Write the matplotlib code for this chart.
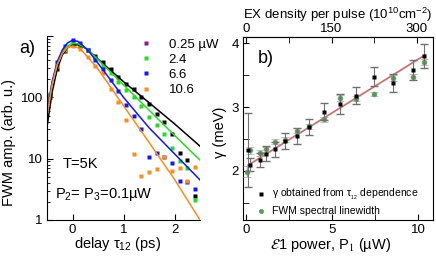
import numpy as np
import matplotlib
matplotlib.use('Agg')
import matplotlib.pyplot as plt
from matplotlib.lines import Line2D
from matplotlib.ticker import LogLocator, NullFormatter, FixedLocator

plt.rcParams['font.family'] = ['Liberation Sans', 'DejaVu Sans']
plt.rcParams['mathtext.fontset'] = 'custom'
plt.rcParams['mathtext.rm'] = 'Liberation Sans'
plt.rcParams['mathtext.it'] = 'Liberation Sans:italic'
plt.rcParams['mathtext.bf'] = 'Liberation Sans:bold'

# panel a: FWM amplitude vs delay, fits and data points
t_fit = [-0.5, -0.4, -0.3, -0.2, -0.1, 0.0, 0.1, 0.2, 0.3, 0.5, 1.0, 1.5, 2.0, 2.5]
fit_025 = [33, 120, 290, 490, 640, 710, 720, 670, 600, 420, 180, 82, 37, 16]
fit_24 = [60, 170, 350, 540, 690, 760, 750, 680, 600, 410, 160, 62, 24, 9.5]
fit_66 = [55, 180, 380, 590, 770, 850, 820, 700, 590, 360, 100, 32, 12, 4.5]
fit_106 = [50, 160, 340, 520, 650, 690, 650, 560, 450, 290, 73, 18.5, 4.6, 1.0]

t_pts = [-0.45, -0.3, -0.15, 0.0, 0.15, 0.3, 0.45, 0.6, 0.75, 0.9,
         1.05, 1.2, 1.35, 1.5, 1.65, 1.8, 1.95, 2.1, 2.25, 2.4]
pts_025 = [100, 290, 560, 720, 700, 600, 470, 380, 290, 215, 165, 135, 100, 77, 53, 39, 25, 12.4, 9.6, 2.5]
pts_24 = [112, 330, 620, 760, 720, 590, 440, 330, 245, 180, 130, 101, 72, 48, 35, 25, 15, 9, 7, 2.1]
pts_66 = [110, 370, 700, 860, 780, 590, 410, 290, 190, 127, 76, 49, 30, 10.5, 12.4, 10.7, 8.5, 4.4, 4.1, 3.2]
pts_106 = [100, 330, 600, 690, 620, 450, 330, 250, 135, 84, 42, 11.7, 5.3, 6.0, 6.8, 10.5, 6.4, 7.0, 4.4, 7.2]

labels_a = ['0.25 µW', '2.4', '6.6', '10.6']
legend_cols = ['#8b1a8b', '#22dd22', '#1414ff', '#ff8c1a']
line_cols = ['black', '#22dd22', '#1414ff', '#ff8c1a']

# panel b: gamma vs power
P_blk = [0.1, 0.18, 0.77, 1.15, 1.67, 2.27, 2.94, 3.65, 4.52, 5.42, 6.38, 7.44, 8.55, 9.7, 10.34]
g_blk = [2.33, 2.10, 2.17, 2.27, 2.34, 2.47, 2.55, 2.69, 2.93, 3.05, 3.18, 3.48, 3.38, 3.58, 3.80]
e_blk = [0.58, 0.10, 0.11, 0.12, 0.12, 0.12, 0.13, 0.13, 0.135, 0.16, 0.13, 0.15, 0.14, 0.16, 0.19]
P_grn = [0.02, 0.2, 0.77, 1.15, 1.67, 2.27, 2.94, 3.65, 4.52, 5.42, 6.38, 7.44, 8.55, 9.7, 10.34]
g_grn = [1.99, 2.32, 2.28, 2.34, 2.46, 2.49, 2.63, 2.70, 2.81, 3.14, 3.13, 3.20, 3.46, 3.47, 3.71]
e_grn = [0.08, 0.05, 0.04, 0.04, 0.04, 0.04, 0.04, 0.04, 0.04, 0.05, 0.04, 0.03, 0.05, 0.05, 0.05]
P_lin = [0.1, 10.4]
g_lin = [2.09, 3.82]
dens_per_uW = 30.3

fig = plt.figure(figsize=(4.36, 2.59), dpi=100)

# ---- panel a ----
ax = fig.add_axes([47/436, 1-220/259, 153/436, 184/259])
fits = [fit_025, fit_24, fit_66, fit_106]
pts = [pts_025, pts_24, pts_66, pts_106]
for i in range(4):
    ax.plot(t_pts, pts[i], 's', ms=2.2, mec='none', color=line_cols[i])
for i in range(4):
    ax.plot(t_fit, fits[i], '-', lw=1.1, color=line_cols[i])
ax.set_yscale('log')
ax.set_ylim(1, 1000)
ax.set_xlim(-0.5, 2.5)
ax.spines['top'].set_visible(False)
ax.spines['right'].set_visible(False)
ax.yaxis.set_major_locator(FixedLocator([1, 10, 100, 1000]))
ax.set_yticklabels(['1', '10', '100', ''])
ax.yaxis.set_minor_locator(LogLocator(base=10, subs=np.arange(2, 10)))
ax.yaxis.set_minor_formatter(NullFormatter())
ax.set_xticks([0, 1, 2])
ax.tick_params(direction='in', labelsize=9.5, length=4, pad=3)
ax.tick_params(which='minor', direction='in', length=2.5)
ax.set_xlabel('delay τ$_{12}$ (ps)', fontsize=10.5,
              bbox=dict(fc='white', ec='none', pad=0.5))
ax.xaxis.set_label_coords(0.46, -0.08)
ax.set_ylabel('FWM amp. (arb. u.)', fontsize=10.5)
ax.yaxis.set_label_coords(-0.2, 0.42)
ax.text(-0.13, 0.93, 'a)', transform=ax.transAxes, fontsize=13, ha='center', va='center')
ax.text(0.1, 0.28, 'T=5K', transform=ax.transAxes, fontsize=10.5)
ax.text(0.05, 0.12, 'P$_2$= P$_3$=0.1µW', transform=ax.transAxes, fontsize=10.5)
handles = [Line2D([], [], ls='none', marker='s', ms=2.5, mec='none', color=c) for c in legend_cols]
ax.legend(handles, labels_a, loc='upper left', bbox_to_anchor=(133/436, 1-32/259),
          bbox_transform=fig.transFigure, frameon=False, fontsize=9.5,
          handlelength=1.0, handletextpad=1.2, labelspacing=0.22, borderpad=0)

# ---- panel b ----
bx = fig.add_axes([243/436, 1-220/259, 190/436, 183/259])
bx.plot(P_lin, g_lin, '-', color='#c87474', lw=1.3, zorder=2)
bx.errorbar(P_grn, g_grn, yerr=e_grn, fmt='o', ms=3.5, mfc='#4f9f4f', mec='#7a9a7a',
            mew=0.5, ecolor='#a8a8a8', elinewidth=1.0, capsize=3, zorder=3)
bx.errorbar(P_blk, g_blk, yerr=e_blk, fmt='s', ms=2.2, color='black', mec='none',
            ecolor='#707070', elinewidth=0.8, capsize=3, zorder=4)
bx.set_xlim(-0.2, 10.85)
bx.set_ylim(1.23, 4.1)
bx.set_xticks([0, 5, 10])
bx.set_xticks([2.5, 7.5], minor=True)
bx.set_yticks([2, 3, 4])
bx.set_yticks([1.5, 2.5, 3.5], minor=True)
bx.tick_params(direction='in', labelsize=9.5, length=4, pad=3)
bx.tick_params(which='minor', direction='in', length=4)
bx.set_xlabel(r'$\mathcal{E}$1 power, P$_1$ (µW)', fontsize=10.5, math_fontfamily='stix')
bx.xaxis.set_label_coords(0.46, -0.09)
bx.set_ylabel('γ (meV)', fontsize=10.5)
bx.yaxis.set_label_coords(-0.085, 0.48)
bx.text(0.08, 0.86, 'b)', transform=bx.transAxes, fontsize=13)
top = bx.secondary_xaxis('top', functions=(lambda p: p*dens_per_uW, lambda d: d/dens_per_uW))
top.set_xticks([0, 150, 300])
top.set_xticks([75, 225], minor=True)
top.tick_params(direction='in', labelsize=9.5, length=4, pad=1.5)
top.tick_params(which='minor', direction='in', length=4)
top.set_xlabel('EX density per pulse (10$^{10}$cm$^{-2}$)', fontsize=9.5, labelpad=3)
hb = [Line2D([], [], ls='none', marker='s', ms=2.2, mec='none', color='black'),
      Line2D([], [], ls='none', marker='o', ms=3.2, mfc='#4f9f4f', mec='#7a9a7a', mew=0.5)]
bx.legend(hb, ['γ obtained from τ$_{_{12}}$ dependence', 'FWM spectral linewidth'],
          loc='upper left', bbox_to_anchor=(252/436, 1-182/259),
          bbox_transform=fig.transFigure, frameon=False, fontsize=7.5,
          handlelength=0.8, handletextpad=0.6, labelspacing=0.4, borderpad=0)

fig.savefig('out.png', dpi=100)
